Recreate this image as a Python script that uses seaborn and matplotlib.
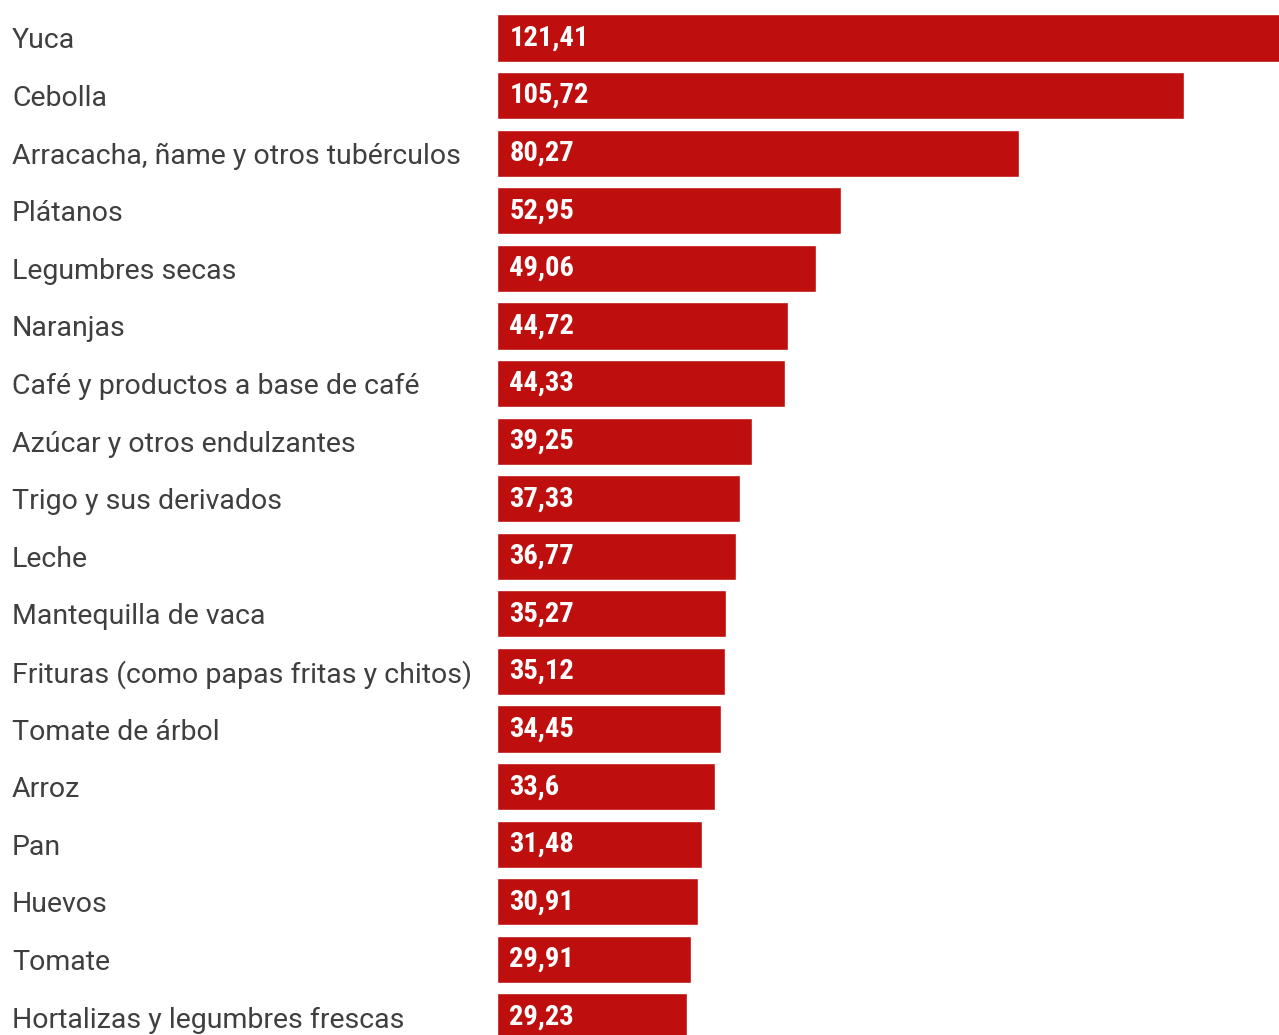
import matplotlib
matplotlib.use("Agg")
import matplotlib.pyplot as plt
import seaborn as sns
import pandas as pd

# ==========================================
# DATA
# ==========================================
categories = [
    "Yuca", "Cebolla", "Arracacha, ñame y otros tubérculos", "Plátanos",
    "Legumbres secas", "Naranjas", "Café y productos a base de café",
    "Azúcar y otros endulzantes", "Trigo y sus derivados", "Leche",
    "Mantequilla de vaca", "Frituras (como papas fritas y chitos)",
    "Tomate de árbol", "Arroz", "Pan", "Huevos", "Tomate",
    "Hortalizas y legumbres frescas",
]
values = [121.41, 105.72, 80.27, 52.95, 49.06, 44.72, 44.33, 39.25, 37.33,
          36.77, 35.27, 35.12, 34.45, 33.6, 31.48, 30.91, 29.91, 29.23]
value_labels = ["121,41", "105,72", "80,27", "52,95", "49,06", "44,72", "44,33",
                "39,25", "37,33", "36,77", "35,27", "35,12", "34,45", "33,6",
                "31,48", "30,91", "29,91", "29,23"]

BAR_COLOR = "#BE0E0E"
TEXT_COLOR = "#3f3f3f"

df = pd.DataFrame({"categoria": categories, "valor": values})

# ==========================================
# PLOT
# ==========================================
sns.set_style("white")
plt.rcParams['font.family'] = ['Roboto', 'DejaVu Sans']

W, H, DPI = 1279, 1035, 100
fig = plt.figure(figsize=(W / DPI, H / DPI), dpi=DPI)
x0 = 497
ax = fig.add_axes([x0 / W, 0, 1 - x0 / W, 1])

sns.barplot(data=df, x="valor", y="categoria", orient="h", color=BAR_COLOR,
            saturation=1, width=0.82, ax=ax)

# 6.5 px per unit, first bar centre at 38 px, row pitch 57.6 px
ax.set_xlim(0, (W - x0) / 6.5)
ax.set_ylim(17 + (H - 1017) / 57.6, -38 / 57.6)

for i, lab in enumerate(value_labels):
    ax.annotate(lab, xy=(0, i), xytext=(9, 0), textcoords="offset points",
                ha="left", va="center", color="white", fontsize=20.5,
                fontweight="bold", family=["Roboto Condensed", "Roboto", "DejaVu Sans"])

ax.set_xlabel("")
ax.set_ylabel("")
ax.set_xticks([])
ax.tick_params(axis="y", length=0, pad=(x0 - 12) * 72 / DPI)
for t in ax.get_yticklabels():
    t.set_ha("left")
    t.set_fontsize(20.5)
    t.set_color(TEXT_COLOR)
sns.despine(ax=ax, left=True, bottom=True)

fig.savefig("out.png", dpi=DPI)
